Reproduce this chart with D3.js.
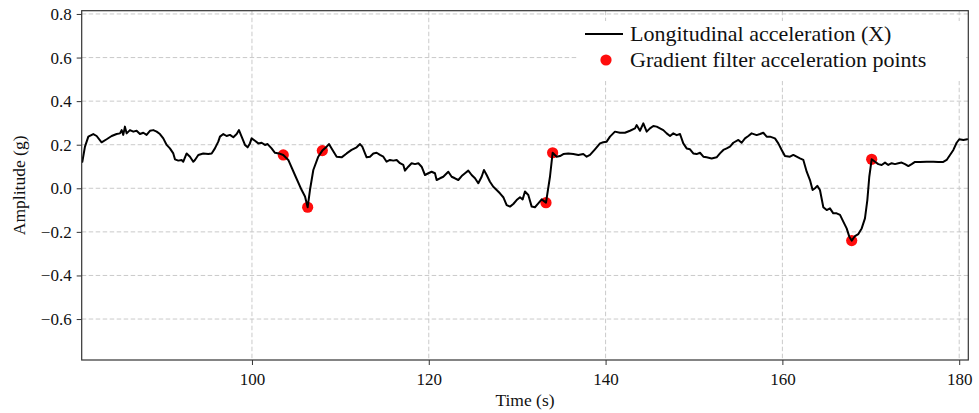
<!DOCTYPE html>
<html>
<head>
<meta charset="utf-8">
<script src="https://cdn.jsdelivr.net/npm/d3@7"></script>
<style>
  html, body { margin: 0; padding: 0; background: #fff; }
  svg { display: block; }
  text { font-family: "Liberation Serif", "Times New Roman", Times, serif; fill: #111; }
</style>
</head>
<body>
<svg id="chart" width="979" height="413"></svg>
<script>
// Longitudinal acceleration trace (time in s, amplitude in g)
const time = [
  80.81, 81.11, 81.49, 82.05, 82.43, 82.99, 83.56, 84.13, 84.69, 85.07,
  85.26, 85.44, 85.63, 85.82, 86.20, 86.58, 86.95, 87.33, 87.71, 88.08,
  88.46, 88.84, 89.22, 89.59, 89.97, 90.35, 90.72, 91.10, 91.29, 91.67,
  92.04, 92.23, 92.61, 92.99, 93.36, 93.55, 93.93, 94.49, 95.06, 95.44,
  95.81, 96.19, 96.38, 96.76, 97.13, 97.51, 97.89, 98.27, 98.53, 98.83,
  99.21, 99.51, 99.77, 99.96, 100.34, 100.72, 101.09, 101.47, 101.77, 102.22,
  102.60, 103.05, 103.54, 104.11, 104.86, 105.62, 106.00, 106.30, 106.56, 106.94,
  107.50, 107.96, 108.45, 108.71, 109.01, 109.58, 110.14, 110.71, 111.27, 111.84,
  112.22, 112.48, 112.97,
  113.35, 113.73, 114.10, 114.48, 114.86, 115.23, 115.61, 115.99, 116.37, 116.74,
  117.12, 117.31, 117.68, 118.06, 118.44, 118.82, 119.19, 119.57, 119.95, 120.32,
  120.70, 120.89, 121.27, 121.64, 122.21, 122.59, 122.96, 123.34, 123.72, 124.10,
  124.47, 124.85, 125.23, 125.60, 125.98, 126.24, 126.55, 126.92, 127.30, 127.68,
  128.05, 128.43, 128.81, 129.19, 129.56, 129.94, 130.32, 130.62, 130.88, 131.26,
  131.64, 132.01, 132.39, 132.77, 133.26, 133.71, 134.01, 134.46, 134.84, 135.22,
  135.78, 136.35, 136.92, 137.48, 137.86, 138.24, 138.80, 139.37, 139.74, 140.12,
  140.50, 141.06, 141.63, 142.19, 142.76, 143.33, 143.51, 143.89, 144.27, 144.65,
  145.02, 145.40, 145.78, 146.15,
  146.53, 146.91, 147.29, 147.66, 148.04, 148.42, 148.79, 149.17, 149.55, 149.92,
  150.30, 150.68, 151.06, 151.43, 152.00, 152.56, 152.94, 153.32, 153.70, 154.07,
  154.45, 155.02, 155.39, 155.77, 156.15, 156.52, 157.09, 157.47, 157.84, 158.22,
  158.60, 159.16, 159.54, 159.92, 160.29, 160.86, 161.24, 161.61, 161.99, 162.37,
  162.75, 163.12, 163.42, 163.69, 163.95, 164.25, 164.63, 165.01, 165.38, 165.76,
  166.14, 166.52, 166.89, 167.27, 167.57, 167.84, 168.21, 168.59, 168.97, 169.34,
  169.61, 169.83, 170.10, 170.48, 170.85, 171.23, 171.61, 171.98, 172.36, 172.74,
  173.11, 173.49, 173.87, 174.25, 174.62, 175.00, 175.57, 176.32, 177.07, 177.64,
  178.20, 178.58, 178.96, 179.34, 179.71, 180.01, 180.47, 180.92
];
const accelX = [
  0.122, 0.191, 0.237, 0.249, 0.240, 0.211, 0.225, 0.240, 0.249, 0.252,
  0.267, 0.245, 0.283, 0.252, 0.267, 0.260, 0.264, 0.249, 0.255, 0.245,
  0.264, 0.267, 0.260, 0.249, 0.229, 0.199, 0.183, 0.160, 0.133, 0.127,
  0.130, 0.122, 0.160, 0.145, 0.122, 0.130, 0.153, 0.160, 0.157, 0.160,
  0.183, 0.214, 0.237, 0.249, 0.240, 0.245, 0.234, 0.249, 0.267, 0.237,
  0.199, 0.188, 0.206, 0.229, 0.218, 0.206, 0.209, 0.199, 0.203, 0.183,
  0.163, 0.160, 0.153, 0.130, 0.061, -0.008, -0.038, -0.087, -0.008, 0.084,
  0.145, 0.173, 0.191, 0.203, 0.183, 0.145, 0.142, 0.160, 0.176, 0.188,
  0.203, 0.191, 0.142,
  0.145, 0.160, 0.163, 0.153, 0.145, 0.122, 0.130, 0.127, 0.130, 0.115,
  0.107, 0.081, 0.099, 0.115, 0.111, 0.115, 0.099, 0.061, 0.069, 0.076,
  0.069, 0.038, 0.046, 0.053, 0.076, 0.053, 0.046, 0.038, 0.056, 0.069,
  0.081, 0.061, 0.046, 0.023, 0.053, 0.084, 0.061, 0.030, 0.007, -0.008,
  -0.023, -0.041, -0.077, -0.084, -0.072, -0.054, -0.041, -0.051, -0.015, -0.031,
  -0.084, -0.087, -0.069, -0.051, -0.066, 0.053, 0.163, 0.145, 0.148, 0.157,
  0.160, 0.157, 0.153, 0.157, 0.145, 0.153, 0.179, 0.206, 0.211, 0.214,
  0.237, 0.260, 0.255, 0.255, 0.264, 0.275, 0.290, 0.264, 0.298, 0.260,
  0.275, 0.286, 0.283, 0.275,
  0.267, 0.252, 0.240, 0.252, 0.244, 0.249, 0.206, 0.183, 0.179, 0.160,
  0.157, 0.163, 0.145, 0.142, 0.137, 0.142, 0.160, 0.176, 0.183, 0.191,
  0.209, 0.222, 0.209, 0.229, 0.240, 0.252, 0.244, 0.249, 0.255, 0.237,
  0.237, 0.229, 0.206, 0.176, 0.148, 0.145, 0.153, 0.145, 0.137, 0.130,
  0.076, 0.038, -0.008, 0.000, 0.011, -0.008, -0.087, -0.100, -0.092, -0.115,
  -0.115, -0.122, -0.153, -0.184, -0.222, -0.240, -0.219, -0.210, -0.184, -0.138,
  -0.054, 0.053, 0.133, 0.122, 0.111, 0.107, 0.118, 0.107, 0.115, 0.111,
  0.115, 0.118, 0.111, 0.102, 0.111, 0.121, 0.121, 0.122, 0.122, 0.121,
  0.121, 0.130, 0.153, 0.176, 0.209, 0.225, 0.222, 0.225
];

// Points picked out by the gradient filter
const pointTimes = [103.54, 106.30, 107.96, 133.26, 134.01, 167.84, 170.10];
const pointValues = [0.153, -0.087, 0.173, -0.066, 0.163, -0.240, 0.133];

// Axis ticks and labels
const xTicks = [100, 120, 140, 160, 180];
const yTicks = [-0.6, -0.4, -0.2, 0.0, 0.2, 0.4, 0.6, 0.8];
const xDomain = [80.74, 181.03];
const yDomain = [-0.788, 0.815];
const xLabel = "Time (s)";
const yLabel = "Amplitude (g)";
const legendLabels = ["Longitudinal acceleration (X)", "Gradient filter acceleration points"];

const svg = d3.select("#chart");
const plot = { left: 81.7, right: 968.3, top: 10.7, bottom: 360 };

const x = d3.scaleLinear().domain(xDomain).range([plot.left, plot.right]);
const y = d3.scaleLinear().domain(yDomain).range([plot.bottom, plot.top]);

svg.append("defs").append("clipPath").attr("id", "plot-clip")
  .append("rect")
  .attr("x", plot.left).attr("y", plot.top)
  .attr("width", plot.right - plot.left).attr("height", plot.bottom - plot.top);

// Dashed grid
const grid = svg.append("g").attr("class", "grid")
  .attr("stroke", "#c4c4c4").attr("stroke-width", 0.9)
  .attr("stroke-dasharray", "4.5,2.5").attr("fill", "none");
grid.selectAll("line.gx").data(xTicks).join("line").attr("class", "gx")
  .attr("x1", d => x(d)).attr("x2", d => x(d))
  .attr("y1", plot.top).attr("y2", plot.bottom);
grid.selectAll("line.gy").data(yTicks).join("line").attr("class", "gy")
  .attr("y1", d => y(d)).attr("y2", d => y(d))
  .attr("x1", plot.left).attr("x2", plot.right);

// Legend background sits over the grid
const legend = svg.append("g").attr("class", "legend");
legend.append("rect")
  .attr("x", 578).attr("y", 21).attr("width", 388).attr("height", 60)
  .attr("rx", 3).attr("fill", "#fff");

const data = time.map((t, i) => ({ t, v: accelX[i] }));
const points = pointTimes.map((t, i) => ({ t, v: pointValues[i] }));

const marks = svg.append("g").attr("clip-path", "url(#plot-clip)");

// Red markers drawn beneath the trace
marks.selectAll("circle.pt").data(points).join("circle").attr("class", "pt")
  .attr("cx", d => x(d.t)).attr("cy", d => y(d.v)).attr("r", 5.6)
  .attr("fill", "#ff0d0d");

const line = d3.line().x(d => x(d.t)).y(d => y(d.v));
marks.append("path").datum(data)
  .attr("d", line)
  .attr("fill", "none").attr("stroke", "#000").attr("stroke-width", 2)
  .attr("stroke-linejoin", "round").attr("stroke-linecap", "round");

// Axes
const fmt = d3.format(".1f");
const xAxis = svg.append("g").attr("transform", `translate(0,${plot.bottom})`)
  .call(d3.axisBottom(x).tickValues(xTicks).tickFormat(d3.format("d")).tickSize(5).tickPadding(7.5));
const yAxis = svg.append("g").attr("transform", `translate(${plot.left},0)`)
  .call(d3.axisLeft(y).tickValues(yTicks).tickFormat(fmt).tickSize(5).tickPadding(5));
[xAxis, yAxis].forEach(g => {
  g.select(".domain").remove();
  g.selectAll(".tick line").attr("stroke", "#333").attr("stroke-width", 1);
  g.selectAll(".tick text").attr("font-size", 17).attr("fill", "#111")
    .style("font-family", "'Liberation Serif', 'Times New Roman', serif");
});

// Frame
svg.append("rect")
  .attr("x", plot.left).attr("y", plot.top)
  .attr("width", plot.right - plot.left).attr("height", plot.bottom - plot.top)
  .attr("fill", "none").attr("stroke", "#333").attr("stroke-width", 1.2);

// Axis titles
svg.append("text")
  .attr("x", (plot.left + plot.right) / 2).attr("y", 406)
  .attr("text-anchor", "middle").attr("font-size", 17.5)
  .text(xLabel);
svg.append("text")
  .attr("transform", `translate(25,${(plot.top + plot.bottom) / 2}) rotate(-90)`)
  .attr("text-anchor", "middle").attr("font-size", 17.5)
  .text(yLabel);

// Legend entries
legend.append("line")
  .attr("x1", 585).attr("x2", 623).attr("y1", 34).attr("y2", 34)
  .attr("stroke", "#000").attr("stroke-width", 2);
legend.append("circle")
  .attr("cx", 606).attr("cy", 60).attr("r", 5.6).attr("fill", "#ff0d0d");
legend.selectAll("text.lg").data(legendLabels).join("text").attr("class", "lg")
  .attr("x", 630).attr("y", (d, i) => 41 + i * 26)
  .attr("font-size", 22)
  .text(d => d);
</script>
</body>
</html>
